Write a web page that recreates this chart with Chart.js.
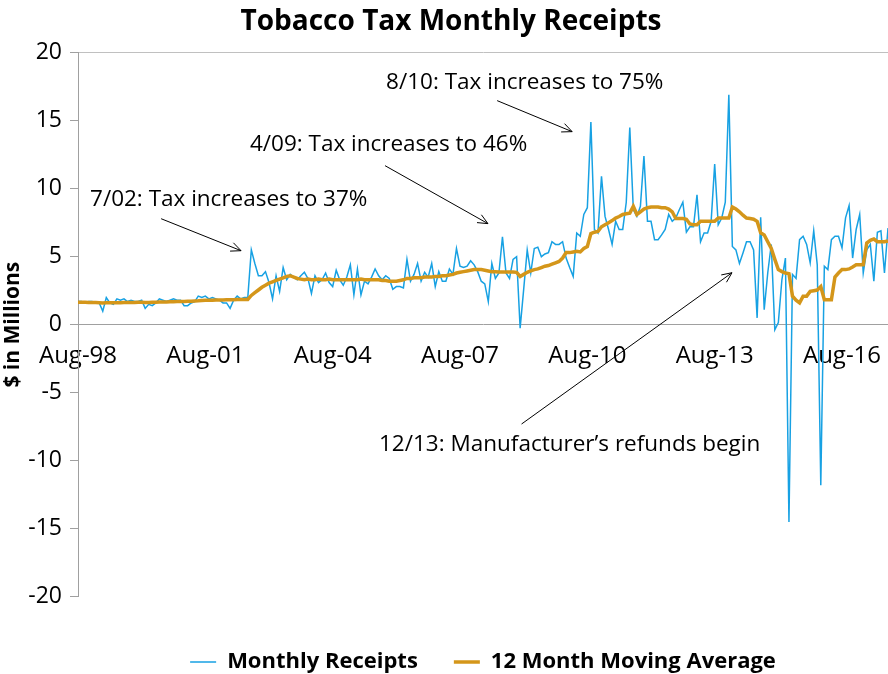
<!DOCTYPE html>
<html>
<head>
<meta charset="utf-8">
<script src="https://cdn.jsdelivr.net/npm/chart.js@4.4.1/dist/chart.umd.min.js"></script>
<style>
  html, body { margin: 0; padding: 0; background: #fff; overflow: hidden; }
  #wrap { width: 902px; height: 674px; }
</style>
</head>
<body>
<div id="wrap"><canvas id="taxChart" width="902" height="674"></canvas></div>
<script>
// month labels, Aug-98 .. Sep-17
const monthNames = ["Jan", "Feb", "Mar", "Apr", "May", "Jun", "Jul", "Aug", "Sep", "Oct", "Nov", "Dec"];
const months = [];
for (let k = 0; k < 230; k++) {
  const m = (7 + k) % 12;
  const yr = (1998 + Math.floor((7 + k) / 12)) % 100;
  months.push(monthNames[m] + "-" + String(yr).padStart(2, "0"));
}

// $ millions
const monthlyReceipts = [
  1.7, 1.7, 1.6, 1.7, 1.7, 1.6, 1.6, 1.0, 2.0, 1.6, 1.5, 1.9,
  1.8, 1.9, 1.7, 1.8, 1.7, 1.7, 1.8, 1.2, 1.5, 1.4, 1.6, 1.9,
  1.8, 1.7, 1.8, 1.9, 1.8, 1.8, 1.4, 1.4, 1.6, 1.7, 2.1, 2.0,
  2.1, 1.9, 2.0, 1.9, 1.8, 1.6, 1.6, 1.2, 1.8, 2.1, 1.9, 2.0,
  2.0, 5.5, 4.5, 3.6, 3.6, 3.9, 3.1, 1.9, 3.6, 2.45, 4.2, 3.3,
  3.7, 3.5, 3.3, 3.6, 3.85, 3.4, 2.3, 3.6, 3.1, 3.3, 3.8, 3.1,
  2.8, 4.0, 3.3, 2.9, 3.5, 4.4, 2.2, 4.1, 2.2, 3.2, 3.0, 3.5,
  4.1, 3.6, 3.3, 3.6, 3.4, 2.6, 2.8, 2.8, 2.7, 4.8, 3.2, 3.7,
  4.5, 3.2, 3.85, 3.5, 4.5, 2.8, 3.9, 3.2, 3.2, 4.1, 3.7, 5.6,
  4.3, 4.2, 4.3, 4.7, 4.4, 3.9, 3.2, 3.0, 1.7, 4.5, 3.4, 3.8,
  6.45, 3.8, 3.4, 4.8, 5.0, -0.25, 2.6, 5.5, 3.8, 5.6, 5.7, 5.0,
  5.2, 5.3, 6.1, 5.9, 5.9, 6.1, 4.9, 4.2, 3.55, 6.74, 6.5, 8.1,
  8.6, 14.9, 7.0, 6.74, 10.9, 7.96, 7.0, 5.9, 7.6, 7.0, 7.0, 9.0,
  14.5, 8.45, 7.96, 8.7, 12.4, 7.6, 7.6, 6.25, 6.25, 6.6, 7.0, 8.1,
  7.6, 7.84, 8.45, 9.0, 6.8, 7.2, 7.2, 9.55, 6.1, 6.74, 6.74, 7.6,
  11.8, 7.35, 7.84, 9.0, 16.9, 5.75, 5.5, 4.5, 5.27, 6.1, 6.1, 5.5,
  0.5, 7.9, 1.1, 3.8, 5.9, -0.37, 0.15, 3.3, 4.9, -14.5, 3.7, 3.4,
  6.25, 6.5, 5.9, 4.55, 6.9, 4.4, -11.8, 4.3, 4.05, 6.25, 6.5, 6.5,
  5.65, 7.85, 8.75, 4.9, 7.0, 8.1, 3.8, 5.5, 5.9, 3.2, 6.8, 6.9, 3.8, 7.1
];

const movingAverage = [
  1.65, 1.65, 1.65, 1.64, 1.63, 1.63, 1.62, 1.6, 1.62, 1.62, 1.62, 1.62,
  1.62, 1.63, 1.63, 1.64, 1.64, 1.65, 1.65, 1.64, 1.64, 1.65, 1.65, 1.66,
  1.66, 1.67, 1.68, 1.69, 1.7, 1.7, 1.71, 1.72, 1.73, 1.75, 1.76, 1.78,
  1.79, 1.8, 1.8, 1.81, 1.82, 1.82, 1.83, 1.83, 1.84, 1.85, 1.85, 1.86,
  1.86, 2.15, 2.35, 2.55, 2.75, 2.9, 3.05, 3.15, 3.25, 3.35, 3.45, 3.55,
  3.6, 3.5, 3.4, 3.35, 3.3, 3.35, 3.3, 3.3, 3.35, 3.3, 3.3, 3.35,
  3.3, 3.3, 3.3, 3.3, 3.3, 3.3, 3.3, 3.3, 3.35, 3.3, 3.3, 3.3,
  3.3, 3.3, 3.25, 3.25, 3.2, 3.2, 3.2, 3.25, 3.3, 3.4, 3.4, 3.45,
  3.45, 3.45, 3.5, 3.5, 3.5, 3.55, 3.55, 3.6, 3.6, 3.65, 3.7, 3.8,
  3.85, 3.9, 3.95, 4.0, 4.05, 4.05, 4.05, 4.0, 3.95, 3.9, 3.9, 3.87,
  3.87, 3.87, 3.87, 3.87, 3.85, 3.55, 3.7, 3.85, 3.95, 4.05, 4.1, 4.2,
  4.3, 4.35, 4.45, 4.55, 4.65, 4.9, 5.3, 5.3, 5.35, 5.4, 5.35, 5.6,
  5.75, 6.7, 6.8, 6.85, 7.2, 7.35, 7.5, 7.65, 7.84, 7.95, 8.1, 8.15,
  8.2, 8.7, 8.1, 8.3, 8.5, 8.6, 8.65, 8.65, 8.65, 8.6, 8.6, 8.5,
  8.3, 7.8, 7.8, 7.8, 7.75, 7.4, 7.35, 7.35, 7.6, 7.6, 7.6, 7.6,
  7.6, 7.84, 7.84, 7.84, 7.84, 8.65, 8.5, 8.3, 8.05, 7.84, 7.8, 7.75,
  7.6, 6.75, 6.6, 6.1, 5.6, 4.8, 4.05, 3.9, 3.8, 3.75, 2.1, 1.8,
  1.6, 2.1, 2.1, 2.45, 2.5, 2.55, 2.8, 1.84, 1.84, 1.84, 3.5, 3.8,
  4.05, 4.05, 4.1, 4.24, 4.4, 4.4, 4.4, 6.0, 6.2, 6.3, 6.1, 6.1, 6.1, 6.15
];

// callouts: text baseline-left anchor and arrow, in (month index, value)
const callouts = [
  { text: "7/02: Tax increases to 37%", at: [3.4, 8.7], from: [23.5, 7.79], to: [46.1, 5.44] },
  { text: "4/09: Tax increases to 46%", at: [48.6, 12.74], from: [86.8, 11.69], to: [115.9, 7.43] },
  { text: "8/10: Tax increases to 75%", at: [87.1, 17.33], from: [118.5, 16.47], to: [139.7, 14.19] },
  { text: "12/13: Manufacturer\u2019s refunds begin", at: [85.1, -9.32], from: [125.4, -7.3], to: [184.9, 3.82] },
];

const FONT = "'Open Sans', 'Noto Sans', sans-serif";
const axisGrey = "#a0a0a0";

const calloutPlugin = {
  id: "callouts",
  afterDraw(chart) {
    const { ctx, scales: { x, y } } = chart;
    ctx.save();
    ctx.font = "22.5px " + FONT;
    ctx.fillStyle = "#000";
    ctx.textBaseline = "alphabetic";
    ctx.strokeStyle = "#000";
    ctx.lineWidth = 1;
    callouts.forEach((c) => {
      ctx.fillText(c.text, x.getPixelForValue(c.at[0]), y.getPixelForValue(c.at[1]));
      const x1 = x.getPixelForValue(c.from[0]), y1 = y.getPixelForValue(c.from[1]);
      const x2 = x.getPixelForValue(c.to[0]), y2 = y.getPixelForValue(c.to[1]);
      const ang = Math.atan2(y2 - y1, x2 - x1);
      ctx.beginPath();
      ctx.moveTo(x1, y1);
      ctx.lineTo(x2, y2);
      ctx.moveTo(x2 - 11 * Math.cos(ang - 0.42), y2 - 11 * Math.sin(ang - 0.42));
      ctx.lineTo(x2, y2);
      ctx.lineTo(x2 - 11 * Math.cos(ang + 0.42), y2 - 11 * Math.sin(ang + 0.42));
      ctx.stroke();
    });
    ctx.restore();
  },
};

new Chart(document.getElementById("taxChart"), {
  type: "line",
  data: {
    labels: months,
    datasets: [
      {
        label: "Monthly Receipts",
        data: monthlyReceipts,
        borderColor: "#17a1e3",
        backgroundColor: "#17a1e3",
        borderWidth: 1.5,
        pointRadius: 0,
        tension: 0,
        order: 1,
      },
      {
        label: "12 Month Moving Average",
        data: movingAverage,
        borderColor: "#d4961a",
        backgroundColor: "#d4961a",
        borderWidth: 3.5,
        pointRadius: 0,
        tension: 0,
        order: 0,
      },
    ],
  },
  options: {
    responsive: false,
    animation: false,
    devicePixelRatio: 1,
    // left/right 14 keeps the title centred where the original one sits
    layout: { padding: { left: 14, right: 14, top: 0, bottom: -9 } },
    plugins: {
      tooltip: { enabled: false },
      title: {
        display: true,
        text: "Tobacco Tax Monthly Receipts",
        color: "#000",
        font: { family: FONT, size: 28, weight: "bold" },
        padding: { top: 5, bottom: 14 },
      },
      legend: {
        position: "bottom",
        fullSize: false,
        title: { display: true, text: " ", font: { size: 1 }, padding: { top: 0, bottom: 17 } },
        labels: {
          color: "#000",
          font: { family: FONT, size: 22, weight: "bold" },
          usePointStyle: true,
          pointStyle: "line",
          pointStyleWidth: 26,
          padding: 36,
          sort: (a, b) => a.datasetIndex - b.datasetIndex,
        },
      },
    },
    scales: {
      x: {
        type: "category",
        position: { y: 0 },
        border: { color: axisGrey },
        grid: {
          drawOnChartArea: false,
          tickLength: 8,
          tickColor: (c) => (c.index % 36 === 0 ? axisGrey : "transparent"),
        },
        ticks: {
          autoSkip: false,
          maxRotation: 0,
          padding: 9,
          color: "#000",
          font: { family: FONT, size: 24 },
          callback: (v, i) => (i % 36 === 0 ? months[i] : null),
        },
      },
      y: {
        min: -20,
        max: 20,
        border: { color: axisGrey },
        grid: {
          color: (c) => (c.tick && c.tick.value === 20 ? "#c0c0c0" : "transparent"),
          tickColor: axisGrey,
          tickLength: 8,
        },
        ticks: {
          stepSize: 5,
          padding: 8,
          color: "#000",
          font: { family: FONT, size: 23 },
        },
        title: {
          display: true,
          text: "$ in Millions",
          color: "#000",
          font: { family: FONT, size: 21, weight: "bold" },
          padding: { top: -14, bottom: 0 },
        },
        afterFit: (scale) => { scale.width = 64; },
      },
    },
  },
  plugins: [calloutPlugin],
});
</script>
</body>
</html>
